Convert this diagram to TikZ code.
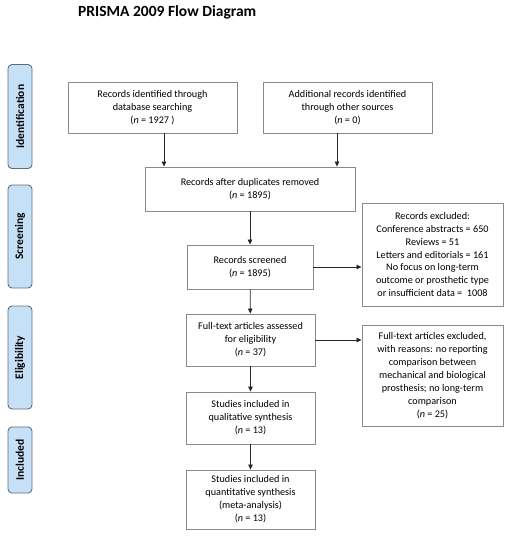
\documentclass[tikz,border=0pt]{standalone}
\usepackage{fontspec}
\setmainfont{Carlito}
\usetikzlibrary{arrows.meta}
\definecolor{phasefill}{HTML}{C6E0F7}
\definecolor{phasedraw}{HTML}{5F6E7C}
\definecolor{boxdraw}{HTML}{8A8A8A}
\begin{document}
\begin{tikzpicture}[x=1pt,y=-1pt,
  flowbox/.style={draw=boxdraw, line width=0.9pt, fill=white, align=center, inner sep=0pt,
    font=\fontsize{10.2}{12.9}\selectfont},
  phase/.style={draw=phasedraw, line width=0.9pt, fill=phasefill, rounded corners=4pt, inner sep=0pt},
  phasetext/.style={rotate=90, font=\fontsize{11.5}{12}\selectfont\bfseries},
  arr/.style={draw=black!85, line width=0.8pt, -{Triangle[length=5pt,width=4.5pt]}}]
\useasboundingbox (0,0) rectangle (513,550);
\node[font=\fontsize{15.5}{17}\selectfont\bfseries, anchor=west, inner sep=0pt] (title) at (78,12.5) {PRISMA 2009 Flow Diagram};
% phase labels
\node[phase, minimum width=24pt, minimum height=104pt] (pid) at (20,116.5) {};
\node[phasetext] (tid) at (pid.center) {Identification};
\node[phase, minimum width=24pt, minimum height=103pt] (psc) at (20,236.5) {};
\node[phasetext] (tsc) at (psc.center) {Screening};
\node[phase, minimum width=24pt, minimum height=103pt] (pel) at (20,357.5) {};
\node[phasetext] (tel) at (pel.center) {Eligibility};
\node[phase, minimum width=24pt, minimum height=66pt] (pin) at (20,460) {};
\node[phasetext] (tin) at (pin.center) {Included};
% boxes
\node[flowbox, minimum width=169pt, minimum height=51pt] (b1) at (152.5,107.5)
  {Records identified through\\database searching\\(\textit{n} = 1927 )};
\node[flowbox, minimum width=169pt, minimum height=51pt] (b2) at (347.5,107.5)
  {Additional records identified\\through other sources\\(\textit{n} = 0)};
\node[flowbox, minimum width=210pt, minimum height=44pt] (b3) at (250,189)
  {Records after duplicates removed\\(\textit{n} = 1895)};
\node[flowbox, minimum width=126pt, minimum height=44pt] (b4) at (250,267)
  {Records screened\\(\textit{n} = 1895)};
\node[flowbox, minimum width=141pt, minimum height=103pt] (b5) at (432.5,254.5)
  {Records excluded:\\Conference abstracts = 650\\Reviews = 51\\Letters and editorials = 161\\No focus on long-term\\outcome or prosthetic type\\or insufficient data =\ \ 1008};
\node[flowbox, minimum width=129pt, minimum height=52pt] (b6) at (250.5,340)
  {Full-text articles assessed\\for eligibility\\(\textit{n} = 37)};
\node[flowbox, minimum width=141pt, minimum height=101pt] (b7) at (432.5,375.5)
  {Full-text articles excluded,\\with reasons: no reporting\\comparison between\\mechanical and biological\\prosthesis; no long-term\\comparison\\(\textit{n} = 25)};
\node[flowbox, minimum width=129pt, minimum height=52pt] (b8) at (250.5,418)
  {Studies included in\\qualitative synthesis\\(\textit{n} = 13)};
\node[flowbox, minimum width=129pt, minimum height=59pt] (b9) at (250.5,499.5)
  {Studies included in\\quantitative synthesis\\(meta-analysis)\\(\textit{n} = 13)};
% arrows
\draw[arr] (b1.south -| 164,0) -- (b3.north -| 164,0);
\draw[arr] (b2.south -| 337,0) -- (b3.north -| 337,0);
\draw[arr] (b3) -- (b4);
\draw[arr] (b4) -- (b5.west |- b4);
\draw[arr] (b4) -- (b6);
\draw[arr] (b6) -- (b7.west |- b6);
\draw[arr] (b6) -- (b8);
\draw[arr] (b8) -- (b9);
\end{tikzpicture}
\end{document}
